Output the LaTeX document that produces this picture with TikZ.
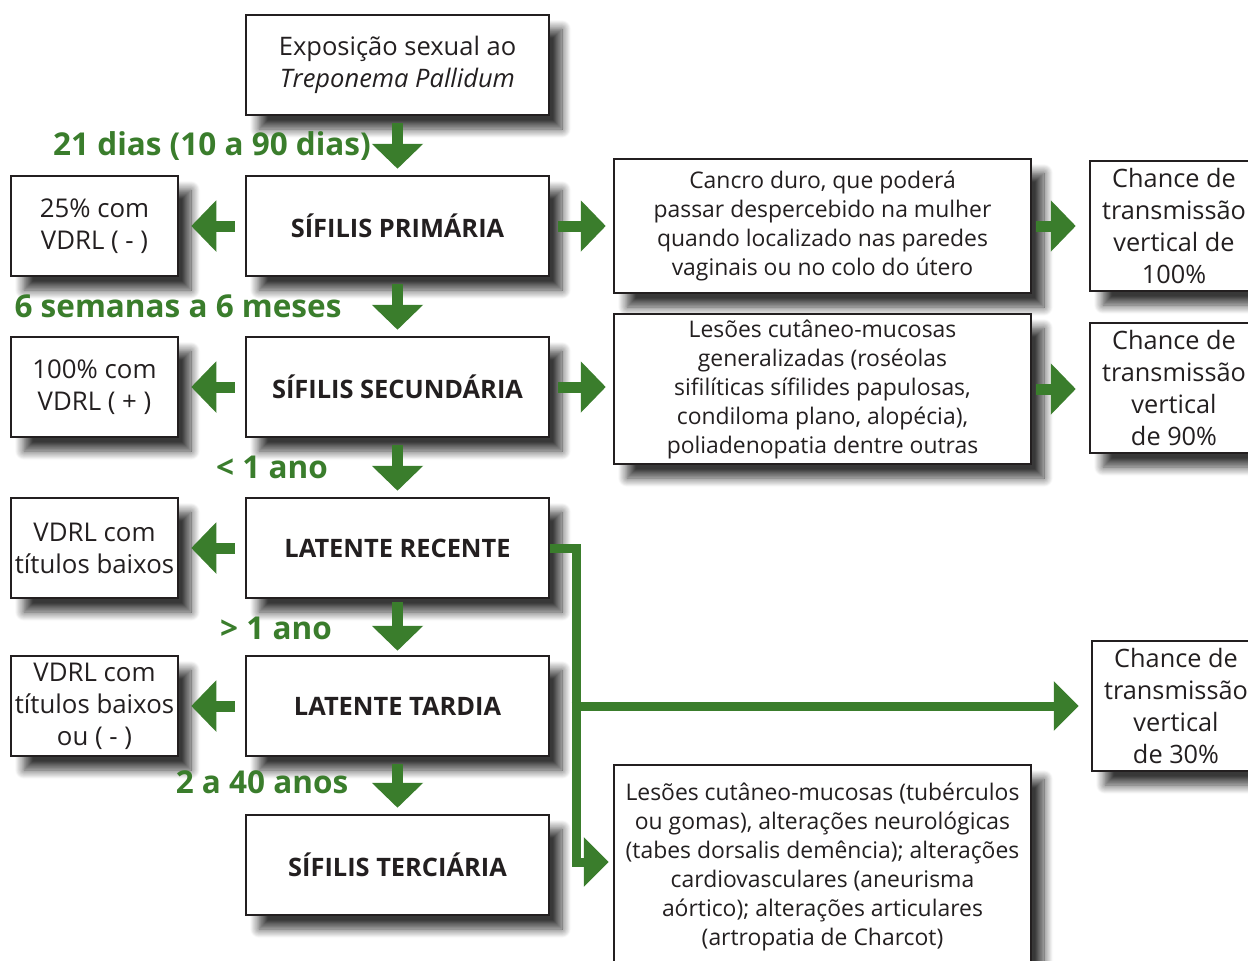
\documentclass[tikz,border=0pt]{standalone}
\usepackage{fontspec}
\setmainfont{Open Sans}
\usetikzlibrary{arrows.meta,shadows.blur}
\definecolor{gr}{HTML}{3A7D2C}
\definecolor{boxc}{HTML}{231F20}
\tikzset{
  box/.style={draw=boxc, line width=2.5pt, fill=white, align=center, text=boxc, inner sep=0pt,
    blur shadow={shadow xshift=13pt, shadow yshift=-14pt, shadow blur radius=9pt, shadow blur steps=12, shadow opacity=78}},
  mainbox/.style={box, minimum width=303pt, minimum height=100pt, font=\fontsize{25.4}{32}\selectfont\bfseries},
  leftbox/.style={box, minimum width=167pt, minimum height=100pt, font=\fontsize{25.8}{32}\selectfont},
  midbox/.style={box, minimum width=417pt, font=\fontsize{22.9}{29}\selectfont},
  rightbox/.style={box, minimum width=168pt, minimum height=130pt, font=\fontsize{25.3}{32}\selectfont},
  garrow/.style={draw=gr, line width=11pt, -{Triangle[width=50pt,length=25pt]}},
  gpath/.style={draw=gr, line width=9pt, line join=miter, -{Triangle[width=48pt,length=25pt]}},
  glabel/.style={text=gr, font=\fontsize{31.5}{34}\selectfont\bfseries, inner sep=0pt}
}
\begin{document}
\begin{tikzpicture}[x=1pt,y=-1pt]
\useasboundingbox (0,0) rectangle (1248,961);
% main column
\node[mainbox, font=\fontsize{25.5}{32}\selectfont] (expo) at (397.5,65) {Exposição sexual ao\\\itshape Treponema Pallidum};
\node[mainbox] (prim) at (397.5,226) {SÍFILIS PRIMÁRIA};
\node[mainbox] (sec) at (397.5,387) {SÍFILIS SECUNDÁRIA};
\node[mainbox] (lr) at (397.5,548) {LATENTE RECENTE};
\node[mainbox] (lt) at (397.5,706) {LATENTE TARDIA};
\node[mainbox] (ter) at (397.5,865) {SÍFILIS TERCIÁRIA};
% left column
\node[leftbox] (l1) at (94.5,226) {25\% com\\VDRL ( - )};
\node[leftbox] (l2) at (94.5,387) {100\% com\\VDRL ( + )};
\node[leftbox] (l3) at (94.5,548) {VDRL com\\títulos baixos};
\node[leftbox] (l4) at (94.5,706) {VDRL com\\títulos baixos\\ou ( - )};
% middle column
\node[midbox, minimum height=134pt] (m1) at (822.5,226) {Cancro duro, que poderá\\passar despercebido na mulher\\quando localizado nas paredes\\vaginais ou no colo do útero};
\node[midbox, minimum height=150pt] (m2) at (822.5,389) {Lesões cutâneo-mucosas\\generalizadas (roséolas\\sifilíticas sífilides papulosas,\\condiloma plano, alopécia),\\poliadenopatia dentre outras};
\node[midbox, minimum height=204pt] (m3) at (822.5,867) {Lesões cutâneo-mucosas (tubérculos\\ou gomas), alterações neurológicas\\(tabes dorsalis demência); alterações\\cardiovasculares (aneurisma\\aórtico); alterações articulares\\(artropatia de Charcot)};
% right column
\node[rightbox] (r1) at (1174,226) {Chance de\\transmissão\\vertical de\\100\%};
\node[rightbox] (r2) at (1174,388) {Chance de\\transmissão\\vertical\\de 90\%};
\node[rightbox] (r3) at (1176,706) {Chance de\\transmissão\\vertical\\de 30\%};
% down arrows
\draw[garrow, shorten <=7pt, shorten >=6pt] (expo.south) -- (prim.north);
\draw[garrow, shorten <=7pt, shorten >=6pt] (prim.south) -- (sec.north);
\draw[garrow, shorten <=7pt, shorten >=6pt] (sec.south) -- (lr.north);
\draw[garrow, shorten <=3pt, shorten >=4pt] (lr.south) -- (lt.north);
\draw[garrow, shorten <=7pt, shorten >=6pt] (lt.south) -- (ter.north);
% left arrows
\draw[garrow, shorten <=10pt, shorten >=12pt] (prim.west) -- (l1.east);
\draw[garrow, shorten <=10pt, shorten >=12pt] (sec.west) -- (l2.east);
\draw[garrow, shorten <=10pt, shorten >=12pt] (lr.west) -- (l3.east);
\draw[garrow, shorten <=10pt, shorten >=12pt] (lt.west) -- (l4.east);
% right arrows
\draw[garrow, shorten <=8pt, shorten >=7pt] (prim.east) -- (m1.west |- prim.east);
\draw[garrow, shorten <=8pt, shorten >=7pt] (sec.east) -- (m2.west |- sec.east);
\draw[garrow, shorten <=4pt, shorten >=13pt] (m1.east) -- (r1.west |- m1.east);
\draw[garrow, shorten <=4pt, shorten >=13pt] (m2.east) -- (r2.west |- m2.east);
% latent connector
\coordinate (bend) at (576,862);
\coordinate (j) at (576,706);
\draw[gpath, shorten >=4pt] (lr.east) -| (bend) -- (bend -| m3.west);
\draw[gpath, shorten >=12pt] ([xshift=-4.5pt]j) -- (j -| r3.west);
% labels
\node[glabel] (t1) at (212,146) {21 dias (10 a 90 dias)};
\node[glabel] (t2) at (178,306) {6 semanas a 6 meses};
\node[glabel] (t3) at (272,467) {< 1 ano};
\node[glabel] (t4) at (276,628) {> 1 ano};
\node[glabel] (t5) at (262,782) {2 a 40 anos};
\end{tikzpicture}
\end{document}
